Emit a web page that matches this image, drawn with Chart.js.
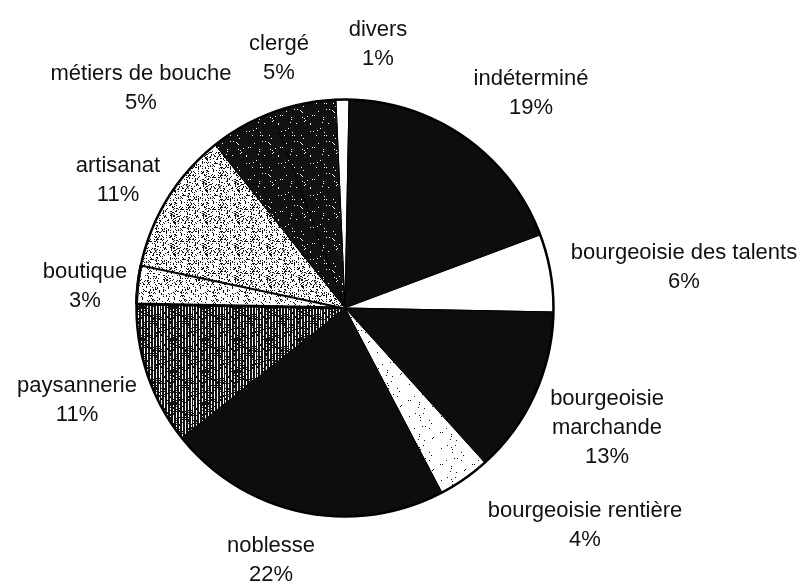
<!DOCTYPE html>
<html>
<head>
<meta charset="utf-8">
<script src="https://cdn.jsdelivr.net/npm/chart.js@4"></script>
<style>
  html, body { margin: 0; padding: 0; background: #fff; }
  #wrap { width: 811px; height: 583px; position: relative; }
</style>
</head>
<body>
<div id="wrap"><canvas id="pie"></canvas></div>
<script>
// Data (clockwise from 12 o'clock)
const categories = ['divers', 'indéterminé', 'bourgeoisie des talents', 'bourgeoisie\nmarchande',
    'bourgeoisie rentière', 'noblesse', 'paysannerie', 'boutique', 'artisanat',
    'métiers de bouche', 'clergé'];
const shares = [1, 19, 6, 13, 4, 22, 11, 3, 11, 5, 5];
const pctLabels = ['1%', '19%', '6%', '13%', '4%', '22%', '11%', '3%', '11%', '5%', '5%'];

// Layout of the outside labels: [centre x, baseline of first line]
const labelPos = [
    [378, 36], [531, 85], [684, 259], [607, 405], [585, 517], [271, 552],
    [77, 392], [85, 278], [118, 172], [141, 80], [279, 50]
];

// small deterministic texture helper
function hash(x, y) {
    let h = (x * 374761393 + y * 668265263) | 0;
    h = (h ^ (h >>> 13)) * 1274126177;
    return ((h ^ (h >>> 16)) >>> 0) % 100;
}
function makePattern(size, isDark) {
    const c = document.createElement('canvas');
    c.width = size; c.height = size;
    const g = c.getContext('2d');
    g.fillStyle = '#fff';
    g.fillRect(0, 0, size, size);
    g.fillStyle = '#111';
    for (let y = 0; y < size; y++)
        for (let x = 0; x < size; x++)
            if (isDark(x, y)) g.fillRect(x, y, 1, 1);
    return g.createPattern(c, 'repeat');
}

const black = '#0d0d0d';
const speckBlack = makePattern(32, (x, y) => hash(x, y) > 2);
const stripes = makePattern(32, (x, y) => (x % 3 !== 1) || hash(x, y) < 30);
const lightDots = makePattern(32, (x, y) => hash(x, y) < 24);
const lighterDots = makePattern(32, (x, y) => hash(x + 7, y) < 16);
const faintDots = makePattern(32, (x, y) => hash(x, y + 3) < 2);

const fills = ['#fff', black, '#fff', black, faintDots, black, stripes, lighterDots, lightDots, speckBlack, speckBlack];

const outsideLabels = {
    id: 'outsideLabels',
    afterDraw(chart) {
        const ctx = chart.ctx;
        ctx.save();
        ctx.fillStyle = '#111';
        ctx.font = '22px "Liberation Sans", Arial, sans-serif';
        ctx.textAlign = 'center';
        ctx.textBaseline = 'alphabetic';
        categories.forEach((name, i) => {
            const [x, y] = labelPos[i];
            const lines = name.split('\n').concat(pctLabels[i]);
            lines.forEach((ln, k) => ctx.fillText(ln, x, y + k * 29));
        });
        ctx.restore();
    }
};

new Chart(document.getElementById('pie'), {
    type: 'pie',
    data: {
        labels: categories,
        datasets: [{
            data: shares,
            backgroundColor: fills,
            borderColor: '#000',
            borderWidth: [1, 1, 1, 1, 1, 1, 1, 3, 1, 1, 1],
            borderAlign: 'center'
        }]
    },
    options: {
        responsive: true,
        maintainAspectRatio: false,
        animation: false,
        rotation: -2.5,
        layout: { padding: { left: 135, right: 256, top: 98, bottom: 65 } },
        plugins: { legend: { display: false }, tooltip: { enabled: false } }
    },
    plugins: [outsideLabels, {
        id: 'rim',
        afterDatasetsDraw(chart) {
            const arc = chart.getDatasetMeta(0).data[0];
            const ctx = chart.ctx;
            ctx.save();
            ctx.strokeStyle = '#000';
            ctx.lineWidth = 2.5;
            ctx.beginPath();
            ctx.arc(arc.x, arc.y, arc.outerRadius, 0, Math.PI * 2);
            ctx.stroke();
            ctx.restore();
        }
    }]
});
</script>
</body>
</html>
